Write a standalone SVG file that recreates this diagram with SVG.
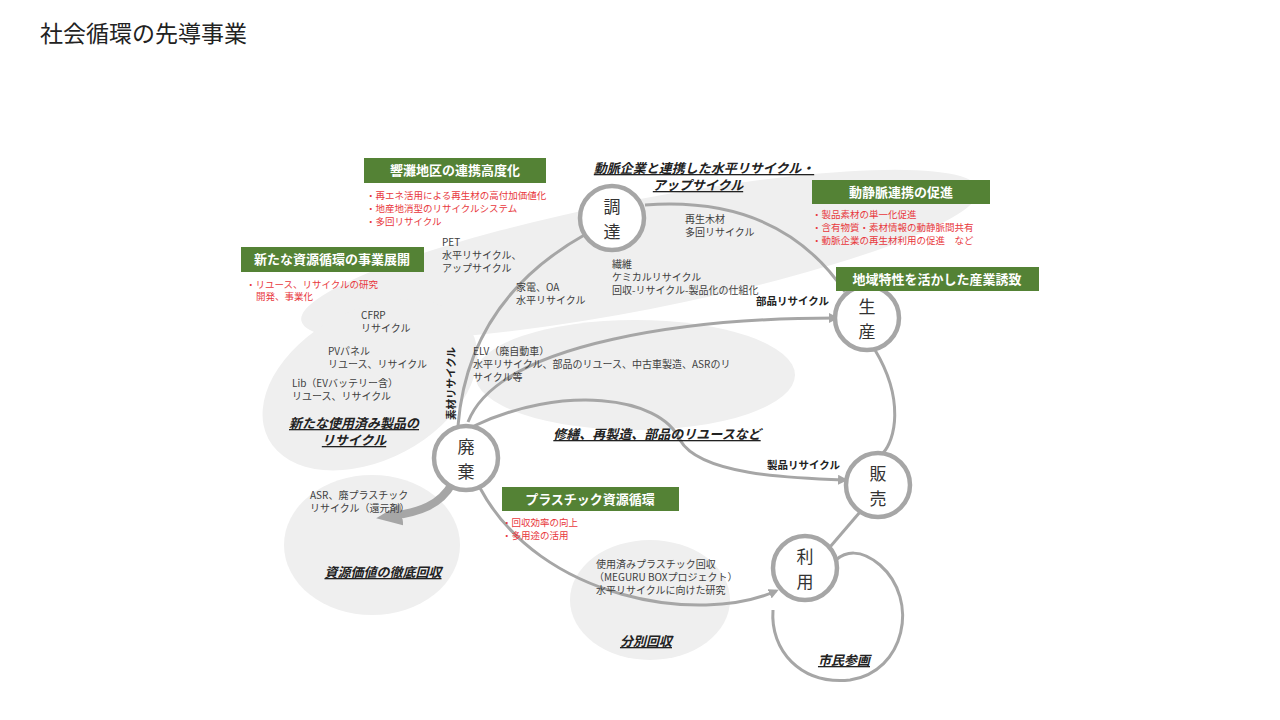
<svg xmlns="http://www.w3.org/2000/svg" width="1280" height="720" viewBox="0 0 1280 720">
<style>
text{font-family:"Noto Sans CJK JP","Noto Sans",sans-serif;fill:#333}
.blob{fill:#efefef}
.gb{fill:#548235}
.gt{fill:#fff;font-size:13px;font-weight:bold;text-anchor:middle}
.red{fill:#e8383d;font-size:9.5px}
.sm{font-size:10px;fill:#404040}
.hd{font-size:13px;font-weight:bold;font-style:italic;text-decoration:underline;text-anchor:middle;fill:#222}
.lb{font-size:10.5px;font-weight:bold;fill:#222}
.node circle{fill:#fff;stroke:#a6a6a6;stroke-width:4.5}
.node text{font-size:17px;text-anchor:middle;fill:#333}
.c{fill:none;stroke:#a6a6a6;stroke-width:3}
</style>
<defs>
<marker id="ah" markerWidth="10" markerHeight="10" refX="7" refY="5" orient="auto" markerUnits="userSpaceOnUse"><path d="M0,0 L10,5 L0,10 Z" fill="#a6a6a6"/></marker>
<marker id="ahb" markerWidth="26" markerHeight="22" refX="10" refY="11" orient="auto" markerUnits="userSpaceOnUse"><path d="M0,0 L26,11 L0,22 Z" fill="#a6a6a6"/></marker>
</defs>
<rect width="1280" height="720" fill="#fff"/>
<text x="40" y="42" style="font-size:23px;fill:#222">社会循環の先導事業</text>
<g id="blobs">
<ellipse class="blob" cx="640" cy="255" rx="345" ry="55" transform="rotate(-11 640 255)"/>
<ellipse class="blob" cx="370" cy="385" rx="115" ry="75" transform="rotate(-28 370 385)"/>
<ellipse class="blob" cx="635" cy="375" rx="160" ry="55"/>
<ellipse class="blob" cx="372" cy="545" rx="88" ry="70"/>
<ellipse class="blob" cx="650" cy="600" rx="80" ry="60"/>
</g>
<g id="connectors">
<path class="c" d="M458,426 Q468,300 586,234"/>
<path class="c" d="M645,205 Q780,195 845,292"/>
<path class="c" d="M468,422 C500,340 700,318 836,318" marker-end="url(#ah)"/>
<path class="c" d="M474,426 C560,385 660,395 680,440 C700,475 790,478 845,480" marker-end="url(#ah)"/>
<path class="c" d="M875,350 C905,400 895,440 883,453"/>
<path class="c" d="M860,512 L830,547"/>
<path class="c" d="M773,610 C770,650 800,685 850,680 C905,672 920,600 880,565 C860,548 845,552 836,560"/>
<path class="c" d="M480,488 C540,600 700,625 776,591" marker-end="url(#ah)"/>
<path fill="none" stroke="#a6a6a6" stroke-width="8" d="M452,484 C440,505 420,512 392,516" marker-end="url(#ahb)"/>
<text class="lb" transform="translate(455,420) rotate(-90)">素材リサイクル</text>
<text class="lb" x="756" y="305">部品リサイクル</text>
<text class="lb" x="767" y="469">製品リサイクル</text>
</g>
<g id="n-chotatsu" class="node"><circle cx="612" cy="218" r="32"/><text x="612" y="213">調</text><text x="612" y="238">達</text></g>
<g id="n-seisan" class="node"><circle cx="867" cy="318" r="32"/><text x="867" y="313">生</text><text x="867" y="338">産</text></g>
<g id="n-hanbai" class="node"><circle cx="878" cy="485" r="32"/><text x="878" y="480">販</text><text x="878" y="505">売</text></g>
<g id="n-riyou" class="node"><circle cx="805" cy="568" r="32"/><text x="805" y="563">利</text><text x="805" y="588">用</text></g>
<g id="n-haiki" class="node"><circle cx="466" cy="458" r="32"/><text x="466" y="453">廃</text><text x="466" y="478">棄</text></g>
<g id="b-hibiki"><rect class="gb" x="364" y="158" width="182" height="25"/><text class="gt" x="455" y="175">響灘地区の連携高度化</text>
<text class="red" x="366" y="199">・再エネ活用による再生材の高付加価値化</text>
<text class="red" x="366" y="212">・地産地消型のリサイクルシステム</text>
<text class="red" x="366" y="225">・多回リサイクル</text></g>
<g id="b-doujou"><rect class="gb" x="812" y="180" width="178" height="24"/><text class="gt" x="901" y="197">動静脈連携の促進</text>
<text class="red" x="812" y="218">・製品素材の単一化促進</text>
<text class="red" x="812" y="231">・含有物質・素材情報の動静脈間共有</text>
<text class="red" x="812" y="244">・動脈企業の再生材利用の促進　など</text></g>
<g id="b-arata"><rect class="gb" x="241" y="247" width="183" height="25"/><text class="gt" x="332" y="264">新たな資源循環の事業展開</text>
<text class="red" x="246" y="288">・リユース、リサイクルの研究</text>
<text class="red" x="256" y="300">開発、事業化</text></g>
<g id="b-chiiki"><rect class="gb" x="836" y="267" width="203" height="24"/><text class="gt" x="937" y="284">地域特性を活かした産業誘致</text></g>
<g id="b-plastic"><rect class="gb" x="502" y="487" width="177" height="24"/><text class="gt" x="590" y="504">プラスチック資源循環</text>
<text class="red" x="502" y="526">・回収効率の向上</text>
<text class="red" x="502" y="539">・多用途の活用</text></g>
<g id="labels">
<text class="hd" x="704" y="173">動脈企業と連携した水平リサイクル・</text>
<text class="hd" x="698" y="190">アップサイクル</text>
<text class="sm" x="685" y="223">再生木材</text><text class="sm" x="685" y="236">多回リサイクル</text>
<text class="sm" x="442" y="246">PET</text><text class="sm" x="442" y="259">水平リサイクル、</text><text class="sm" x="442" y="272">アップサイクル</text>
<text class="sm" x="612" y="268">繊維</text><text class="sm" x="612" y="281">ケミカルリサイクル</text><text class="sm" x="612" y="294">回収-リサイクル-製品化の仕組化</text>
<text class="sm" x="516" y="291">家電、OA</text><text class="sm" x="516" y="304">水平リサイクル</text>
<text class="sm" x="361" y="319">CFRP</text><text class="sm" x="361" y="332">リサイクル</text>
<text class="sm" x="328" y="355">PVパネル</text><text class="sm" x="328" y="368">リユース、リサイクル</text>
<text class="sm" x="292" y="387">Lib（EVバッテリー含）</text><text class="sm" x="292" y="400">リユース、リサイクル</text>
<text class="sm" x="473" y="355">ELV（廃自動車）</text><text class="sm" x="473" y="368">水平リサイクル、部品のリユース、中古車製造、ASRのリ</text><text class="sm" x="473" y="381">サイクル等</text>
<text class="hd" x="354" y="428">新たな使用済み製品の</text><text class="hd" x="354" y="445">リサイクル</text>
<text class="hd" x="657" y="439">修繕、再製造、部品のリユースなど</text>
<text class="sm" x="310" y="499">ASR、廃プラスチック</text><text class="sm" x="310" y="512">リサイクル（還元剤）</text>
<text class="hd" x="383" y="577">資源価値の徹底回収</text>
<text class="sm" x="596" y="568">使用済みプラスチック回収</text><text class="sm" x="594" y="581">（MEGURU BOXプロジェクト）</text><text class="sm" x="596" y="594">水平リサイクルに向けた研究</text>
<text class="hd" x="646" y="646">分別回収</text>
<text class="hd" x="844" y="665">市民参画</text>
</g>
</svg>
